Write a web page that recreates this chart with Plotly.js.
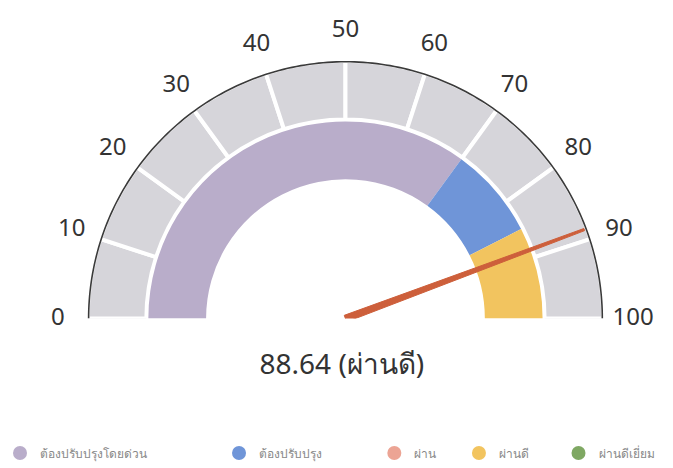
<!DOCTYPE html>
<html><head><meta charset="utf-8">
<script src="https://cdn.plot.ly/plotly-3.0.1.min.js"></script>
<style>html,body{margin:0;padding:0;background:#fff}#chart{width:673px;height:468px}</style>
</head><body><div id="chart"></div>
<script>
// ---- data ----
const scaleTicks = [0, 10, 20, 30, 40, 50, 60, 70, 80, 90, 100];
const scaleTickLabels = ['0', '10', '20', '30', '40', '50', '60', '70', '80', '90', '100'];
const bandNames = ['ต้องปรับปรุงโดยด่วน', 'ต้องปรับปรุง', 'ผ่าน', 'ผ่านดี', 'ผ่านดีเยี่ยม'];
const bandFrom = [0, 70, null, 85, null];
const bandTo = [70, 85, null, 100, null];
const score = 88.64;
const scoreLabel = 'ผ่านดี';

// ---- styles ----
const bandColors = ['#b9adca', '#6f95d8', '#eca494', '#f2c45f', '#7fa863'];
const legendCenters = [17, 237, 393, 478, 578];
const W = 673, H = 468;
const CX = 344, CY = 320, R_PLOT = 320, R_OUT = 258;
const RING_IN = 200, BAND_IN = 140, BAND_OUT = 198, LABEL_R = 289;
const gaugeMin = scaleTicks[0], gaugeMax = scaleTicks[scaleTicks.length - 1];
const deg = v => (v - gaugeMin) / (gaugeMax - gaugeMin) * 180;

const traces = [];
// outer grey ring, one segment per tick interval
const segTheta = [], segWidth = [], segR = [], segBase = [];
for (let i = 0; i < scaleTicks.length - 1; i++) {
  segTheta.push(deg((scaleTicks[i] + scaleTicks[i + 1]) / 2));
  segWidth.push(deg(scaleTicks[i + 1]) - deg(scaleTicks[i]));
  segR.push(R_OUT + 1 - RING_IN);
  segBase.push(RING_IN);
}
traces.push({
  type: 'barpolar', r: segR, base: segBase, theta: segTheta, width: segWidth,
  marker: {color: '#d6d5da', line: {color: '#ffffff', width: 4}},
  showlegend: false, hoverinfo: 'skip'
});
// outer dark rim
const rimTheta = [], rimR = [];
for (let t = deg(gaugeMin); t <= deg(gaugeMax) + 1e-9; t += 1) { rimTheta.push(t); rimR.push(R_OUT); }
traces.push({
  type: 'scatterpolar', mode: 'lines', r: rimR, theta: rimTheta, cliponaxis: false,
  line: {color: '#3a3a3a', width: 1.6}, showlegend: false, hoverinfo: 'skip'
});
// inner coloured bands
bandNames.forEach((n, i) => {
  if (bandFrom[i] === null) return;
  traces.push({
    type: 'barpolar', r: [BAND_OUT - BAND_IN], base: [BAND_IN],
    theta: [deg((bandFrom[i] + bandTo[i]) / 2)], width: [deg(bandTo[i]) - deg(bandFrom[i])],
    marker: {color: bandColors[i], line: {width: 0}},
    showlegend: false, name: n, hoverinfo: 'skip'
  });
});
// scale labels
traces.push({
  type: 'scatterpolar', mode: 'text', r: scaleTicks.map(() => LABEL_R), theta: scaleTicks.map(deg),
  text: scaleTickLabels, textposition: 'middle center', cliponaxis: false,
  textfont: {size: 24, color: '#333'}, showlegend: false, hoverinfo: 'skip'
});
// needle
const a = deg(score);
traces.push({
  type: 'scatterpolar', mode: 'lines', fill: 'toself',
  r: [3.5, 256, 256, 3.5, 3.5], theta: [a + 90, a + 0.25, a - 0.25, a - 90, a + 90],
  line: {color: '#cd5f3b', width: 1}, fillcolor: '#cd5f3b',
  showlegend: false, hoverinfo: 'skip'
});
const layout = {
  width: W, height: H, margin: {l: 0, r: 0, t: 0, b: 0},
  paper_bgcolor: '#ffffff',
  font: {family: 'Noto Sans, sans-serif', color: '#333'},
  title: {text: score.toFixed(2) + ' (' + scoreLabel + ')', x: 0.508, xanchor: 'center',
    y: 1 - 364 / H, yanchor: 'middle', yref: 'container', font: {size: 28, color: '#333'}},
  polar: {
    domain: {x: [(CX - R_PLOT) / W, (CX + R_PLOT) / W], y: [(H - CY) / H, (H - CY + R_PLOT) / H]},
    sector: [0, 180], hole: 0, bgcolor: 'rgba(0,0,0,0)',
    radialaxis: {range: [0, R_PLOT], visible: false},
    angularaxis: {rotation: 180, direction: 'clockwise', thetaunit: 'degrees',
      showgrid: false, showline: false, ticks: '', showticklabels: false}
  },
  showlegend: true
};
// legend entries (one legend per entry to match spacing)
bandNames.forEach((n, i) => {
  const key = i === 0 ? 'legend' : 'legend' + (i + 1);
  traces.push({
    type: 'scatterpolar', mode: 'markers', r: [null], theta: [null], name: n,
    marker: {color: bandColors[i], size: 14}, legend: key, showlegend: true, hoverinfo: 'skip'
  });
  layout[key] = {orientation: 'h', x: (legendCenters[i] - 20) / W, xanchor: 'left',
    y: 1 - 455 / H, yanchor: 'middle', font: {size: 12, color: '#888'},
    bgcolor: 'rgba(0,0,0,0)', itemclick: false, itemdoubleclick: false};
});
Plotly.newPlot('chart', traces, layout, {displayModeBar: false, staticPlot: true});
</script></body></html>
